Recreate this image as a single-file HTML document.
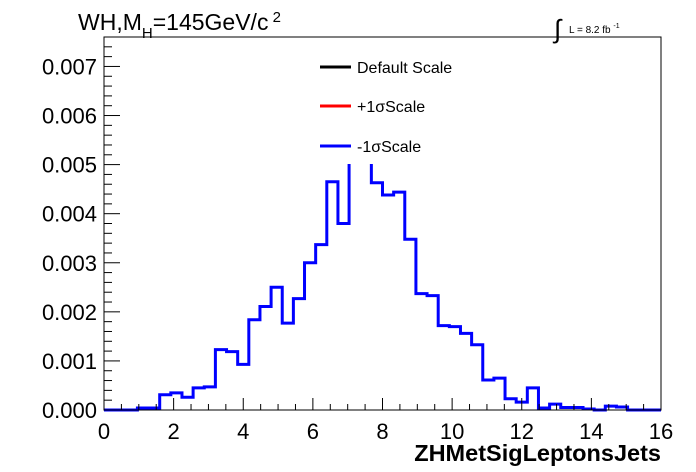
<!DOCTYPE html>
<html><head><meta charset="utf-8"><style>
body{margin:0;background:#fff;}
svg{display:block;font-family:"Liberation Sans",sans-serif;}
</style></head><body>
<svg id="c" width="696" height="472" viewBox="0 0 696 472">
<rect width="696" height="472" fill="#fff"/>
<g id="hist"></g>
<rect x="300" y="48" width="170" height="116" fill="#fff"/>
<g>
<line x1="320" y1="67" x2="351" y2="67" stroke="#000" stroke-width="3"/>
<text x="357" y="73" font-size="16">Default Scale</text>
<line x1="320" y1="106" x2="351" y2="106" stroke="#f00" stroke-width="3"/>
<text x="357" y="112" font-size="16">+1σScale</text>
<line x1="320" y1="146" x2="351" y2="146" stroke="#00f" stroke-width="3"/>
<text x="357" y="152" font-size="16">-1σScale</text>
</g>
<rect x="104" y="37" width="557" height="373" fill="none" stroke="#000" stroke-width="1"/>
<g id="axes"></g>
<text x="78" y="30" font-size="23">WH,M<tspan font-size="15" dy="8">H</tspan><tspan dy="-8">=145GeV/c</tspan><tspan font-size="15" dy="-8"> 2</tspan></text>
<text x="554" y="38" font-size="26">∫</text>
<text x="569" y="33" font-size="10">L = 8.2 fb <tspan font-size="7" dy="-5">-1</tspan></text>
<text x="661" y="461" font-size="23.5" font-weight="bold" text-anchor="end">ZHMetSigLeptonsJets</text>
</svg>
<script>
const binValues=[0,0,0,0.00004,0.00004,0.00031,0.00035,0.00026,0.00045,0.00047,0.00123,0.00119,0.00093,0.00184,0.00211,0.0025,0.00177,0.00227,0.003,0.00337,0.00465,0.0038,0.0058,0.0056,0.00463,0.00438,0.00444,0.00348,0.00237,0.00233,0.00172,0.0017,0.00156,0.00133,0.00061,0.00065,0.00023,0.00016,0.00045,0.00004,0.00012,0.00005,0.00005,0.00002,0,0.00008,0.00006,0,0,0];
const xMin=0, xMax=16;
const yMin=0, yMax=0.0076;
const xTickLabels=["0","2","4","6","8","10","12","14","16"];
const yTickLabels=["0.000","0.001","0.002","0.003","0.004","0.005","0.006","0.007"];
const NS="http://www.w3.org/2000/svg";
const L=104,R=661,B=410,T=37;
function xs(v){return L+(v-xMin)/(xMax-xMin)*(R-L);}
function ys(v){return B-(v-yMin)/(yMax-yMin)*(B-T);}
function mk(tag,attrs,parent){const e=document.createElementNS(NS,tag);for(const k in attrs)e.setAttribute(k,attrs[k]);parent.appendChild(e);return e;}
const hist=document.getElementById('hist');
const bw=(xMax-xMin)/binValues.length;
let d="M"+xs(xMin)+","+ys(0);
binValues.forEach((v,i)=>{const y=Math.max(ys(v),T);d+=" L"+xs(xMin+i*bw)+","+y+" L"+xs(xMin+(i+1)*bw)+","+y;});
d+=" L"+xs(xMax)+","+ys(0);
const p=mk('path',{d:d,fill:'none',stroke:'#00f','stroke-width':3},hist);


const ax=document.getElementById('axes');
xTickLabels.forEach((t,i)=>{const v=+t;const x=xs(v);
 mk('line',{x1:x,y1:B,x2:x,y2:B-12,stroke:'#000'},ax);
 const tx=mk('text',{x:x,y:439,'font-size':22,'text-anchor':'middle'},ax);tx.textContent=t;
 
 
 if(i<xTickLabels.length-1){for(let k=1;k<4;k++){const xm=xs(v+k*0.5);mk('line',{x1:xm,y1:B,x2:xm,y2:B-6,stroke:'#000'},ax);}}
});
yTickLabels.forEach((t)=>{const v=+t;const y=ys(v);
 mk('line',{x1:L,y1:y,x2:L+16,y2:y,stroke:'#000'},ax);
 const tx=mk('text',{x:97,y:y+8,'font-size':22,'text-anchor':'end'},ax);tx.textContent=t;
 
 
});
for(let v=0.0002;v<yMax;v+=0.0002){const y=ys(v);if(Math.abs(v*1000-Math.round(v*1000))>1e-6)mk('line',{x1:L,y1:y,x2:L+8,y2:y,stroke:'#000'},ax);}
</script>
</body></html>
